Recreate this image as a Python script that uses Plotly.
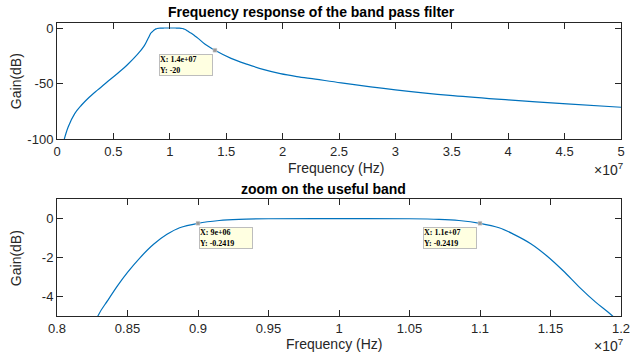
import plotly.graph_objects as go

# ---- data (frequency in Hz, gain in dB) ----
freq_hz = [0.064e7, 0.099e7, 0.157e7, 0.216e7, 0.274e7, 0.361e7, 0.449e7, 0.536e7,
           0.624e7, 0.711e7, 0.770e7, 0.799e7, 0.812e7, 0.829e7, 0.836e7, 0.843e7, 0.850e7,
           0.859e7, 0.8685e7, 0.878e7, 0.887e7, 0.900e7, 0.915e7, 0.929e7, 0.950e7,
           1.000e7, 1.050e7, 1.071e7, 1.085e7, 1.100e7, 1.1135e7, 1.124e7, 1.136e7,
           1.1475e7, 1.159e7, 1.1706e7, 1.182e7, 1.194e7, 1.220e7, 1.251e7, 1.310e7, 1.400e7,
           1.543e7, 1.689e7, 1.835e7, 1.980e7, 2.126e7, 2.290e7, 2.520e7, 3.000e7,
           3.510e7, 4.000e7, 4.520e7, 5.000e7]
gain_db = [-100.0, -88.9, -76.9, -69.4, -63.3, -55.6, -48.1, -40.8,
           -33.0, -24.0, -16.5, -11.1, -8.6, -5.0, -4.2, -3.44, -2.76,
           -2.0, -1.32, -0.81, -0.47, -0.2419, -0.10, -0.04, -0.01,
           0.0, -0.01, -0.04, -0.10, -0.2419, -0.47, -0.81, -1.29,
           -1.92, -2.68, -3.53, -4.29, -5.0, -6.9, -9.3, -14.4, -20.0,
           -27.3, -32.7, -37.4, -41.0, -43.6, -45.9, -49.3, -55.5,
           -60.7, -64.6, -68.2, -71.2]

# data tips: (x, y, panel, pixel offset of box centre)
tip_x = [1.4e7, 9e6, 1.1e7]
tip_y = [-20, -0.2419, -0.2419]
tip_xtext = ["1.4e+07", "9e+06", "1.1e+07"]
tip_ytext = ["-20", "-0.2419", "-0.2419"]
tip_panel = ["top", "bottom", "bottom"]
tip_ax = [-29, 28, -30]
tip_ay = [15, 15, 15]

top_xticks = [0, 0.5e7, 1e7, 1.5e7, 2e7, 2.5e7, 3e7, 3.5e7, 4e7, 4.5e7, 5e7]
top_xticklabels = ["0", "0.5", "1", "1.5", "2", "2.5", "3", "3.5", "4", "4.5", "5"]
top_yticks = [-100, -50, 0]
bot_xticks = [0.8e7, 0.85e7, 0.9e7, 0.95e7, 1e7, 1.05e7, 1.1e7, 1.15e7, 1.2e7]
bot_xticklabels = ["0.8", "0.85", "0.9", "0.95", "1", "1.05", "1.1", "1.15", "1.2"]
bot_yticks = [-4, -2, 0]

title_top = "Frequency response of the band pass filter"
title_bot = "zoom on the useful band"
xlabel = "Frequency (Hz)"
ylabel = "Gain(dB)"

LINE = "#0072BD"
AX = "#262626"
FONT = "Liberation Sans, Arial, Helvetica, sans-serif"

fig = go.Figure()
fig.add_trace(go.Scatter(x=freq_hz, y=gain_db, mode="lines", xaxis="x", yaxis="y",
                         line=dict(color=LINE, width=1.2, shape="spline", smoothing=1.0),
                         hoverinfo="skip", showlegend=False))
fig.add_trace(go.Scatter(x=freq_hz, y=gain_db, mode="lines", xaxis="x2", yaxis="y2",
                         line=dict(color=LINE, width=1.2, shape="spline", smoothing=1.0),
                         hoverinfo="skip", showlegend=False))

for i in range(len(tip_x)):
    xa, ya = ("x", "y") if tip_panel[i] == "top" else ("x2", "y2")
    fig.add_trace(go.Scatter(x=[tip_x[i]], y=[tip_y[i]], mode="markers", xaxis=xa, yaxis=ya,
                             marker=dict(symbol="square", size=4, color="#9a9a9a",
                                         line=dict(color="#e0e0e0", width=0.5)),
                             hoverinfo="skip", showlegend=False))
    fig.add_annotation(x=tip_x[i], y=tip_y[i], xref=xa, yref=ya,
                       text="<b>X: %s<br>Y: %s</b>" % (tip_xtext[i], tip_ytext[i]),
                       showarrow=True, arrowcolor="rgba(0,0,0,0)", arrowwidth=0.1,
                       ax=tip_ax[i], ay=tip_ay[i], align="left",
                       width=52, height=20, borderpad=0, borderwidth=1,
                       bgcolor="#FFFFE1", bordercolor="#BDBDBD",
                       font=dict(family="Liberation Serif, Times New Roman, serif",
                                 size=8, color="black"))

axis_common = dict(showgrid=False, zeroline=False, showline=True, linecolor=AX, linewidth=1,
                   mirror="ticks", ticks="inside", ticklen=6, tickcolor=AX, tickwidth=1,
                   tickfont=dict(family=FONT, size=13, color=AX))

fig.update_layout(
    width=639, height=353,
    margin=dict(l=57, r=9, t=23, b=37),
    paper_bgcolor="white", plot_bgcolor="white",
    xaxis=dict(domain=[0, 1], anchor="y", range=[0, 5e7],
               tickvals=top_xticks, ticktext=top_xticklabels, **axis_common),
    yaxis=dict(domain=[0.603, 1], anchor="x", range=[-100, 4.5],
               tickvals=top_yticks, ticktext=[str(v) for v in top_yticks], **axis_common),
    xaxis2=dict(domain=[0, 1], anchor="y2", range=[0.8e7, 1.2e7],
                tickvals=bot_xticks, ticktext=bot_xticklabels, **axis_common),
    yaxis2=dict(domain=[0, 0.399], anchor="x2", range=[-5, 1],
                tickvals=bot_yticks, ticktext=[str(v) for v in bot_yticks], **axis_common),
)

H = 293.0
W = 573.0
def py(pix):
    return (316.0 - pix) / H
def px(pix):
    return (pix - 57.0) / W

texts = [
    dict(x=px(316), y=py(12), text="<b>%s</b>" % title_top, size=14, color="black"),
    dict(x=px(328), y=py(189), text="<b>%s</b>" % title_bot, size=14, color="black"),
    dict(x=px(340), y=py(168), text=xlabel, size=14, color=AX),
    dict(x=px(338), y=py(344), text=xlabel, size=14, color=AX),
]
for t in texts:
    fig.add_annotation(x=t["x"], y=t["y"], xref="paper", yref="paper", text=t["text"],
                       showarrow=False, xanchor="center", yanchor="middle",
                       font=dict(family=FONT, size=t["size"], color=t["color"]))

for yy in [py(169), py(345)]:
    fig.add_annotation(x=px(634), y=yy, xref="paper", yref="paper",
                       text="\u00d710<sup>7</sup>", showarrow=False,
                       xanchor="right", yanchor="middle",
                       font=dict(family=FONT, size=14, color=AX))

for yy in [py(81), py(258)]:
    fig.add_annotation(x=px(15.5), y=yy, xref="paper", yref="paper", text=ylabel,
                       showarrow=False, textangle=-90, xanchor="center", yanchor="middle",
                       font=dict(family=FONT, size=14, color=AX))

fig.write_html("out.html", config={"displayModeBar": False},
               post_script="document.body.style.margin='0px';document.body.style.overflow='hidden';")
